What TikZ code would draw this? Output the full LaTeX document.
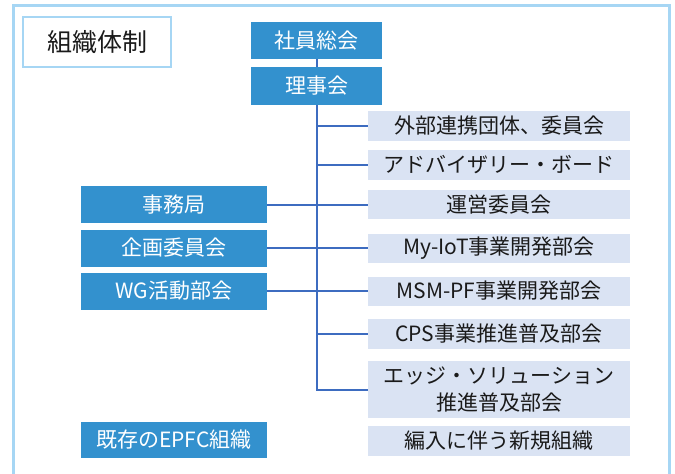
\documentclass[tikz,border=0pt]{standalone}
\usepackage{fontspec}
\setmainfont{Noto Sans CJK JP}
\definecolor{boxblue}{HTML}{3391CE}
\definecolor{boxlight}{HTML}{DAE3F3}
\definecolor{linkblue}{HTML}{3D6CC0}
\definecolor{framebl}{HTML}{A6D6F4}
\definecolor{txt}{HTML}{1A1A1A}
\tikzset{
  bluebox/.style={fill=boxblue, draw=none, text=white, inner sep=0pt, align=center,
    font=\fontsize{21}{27}\selectfont},
  lightbox/.style={fill=boxlight, draw=none, text=txt, inner sep=0pt, align=center,
    minimum width=262pt, font=\fontsize{21}{27}\selectfont},
  link/.style={draw=linkblue, line width=2pt},
}
\begin{document}
\begin{tikzpicture}[x=1pt, y=-1pt]
\useasboundingbox (0,0) rectangle (675,474);
% outer frame
\draw[framebl, line width=3pt] (13.5,480) -- (13.5,5.5) -- (669.5,5.5) -- (669.5,480);
% title
\node[draw=framebl, line width=1.5pt, fill=white, minimum width=148pt, minimum height=50pt, inner sep=0pt,
  text=txt, font=\fontsize{25}{30}\selectfont] (title) at (97,42) {組織体制};
% top boxes
\node[bluebox, minimum width=131pt, minimum height=37pt] (shain) at (316.5,40.5) {社員総会};
\node[bluebox, minimum width=131pt, minimum height=38pt] (riji) at (316.5,86) {理事会};
% left boxes
\node[bluebox, minimum width=186pt, minimum height=37pt] (jimu) at (174,204.5) {事務局};
\node[bluebox, minimum width=186pt, minimum height=37pt] (kikaku) at (174,248) {企画委員会};
\node[bluebox, minimum width=186pt, minimum height=37pt] (wg) at (174,291) {WG活動部会};
\node[bluebox, minimum width=186pt, minimum height=36pt] (kison) at (174,440) {既存のEPFC組織};
% right boxes
\node[lightbox, minimum height=30pt] (gaibu) at (499,126) {外部連携団体、委員会};
\node[lightbox, minimum height=30pt] (adv) at (499,165) {アドバイザリー・ボード};
\node[lightbox, minimum height=29pt] (unei) at (499,204.5) {運営委員会};
\node[lightbox, minimum height=29pt] (myiot) at (499,248) {My-IoT事業開発部会};
\node[lightbox, minimum height=29pt] (msm) at (499,291) {MSM-PF事業開発部会};
\node[lightbox, minimum height=30pt] (cps) at (499,334) {CPS事業推進普及部会};
\node[lightbox, minimum height=57pt] (edge) at (499,389.5) {エッジ・ソリューション\\推進普及部会};
\node[lightbox, minimum height=30pt] (henyu) at (499,441) {編入に伴う新規組織};
% connectors
\draw[link] (shain.south) -- (riji.north);
\draw[link] (riji.south) -- (riji.south |- edge.west) -- (edge.west);
\draw[link] (riji.south |- gaibu.west) -- (gaibu.west);
\draw[link] (riji.south |- adv.west) -- (adv.west);
\draw[link] (riji.south |- cps.west) -- (cps.west);
\draw[link] (jimu.east) -- (unei.west);
\draw[link] (kikaku.east) -- (myiot.west);
\draw[link] (wg.east) -- (msm.west);
\end{tikzpicture}
\end{document}
